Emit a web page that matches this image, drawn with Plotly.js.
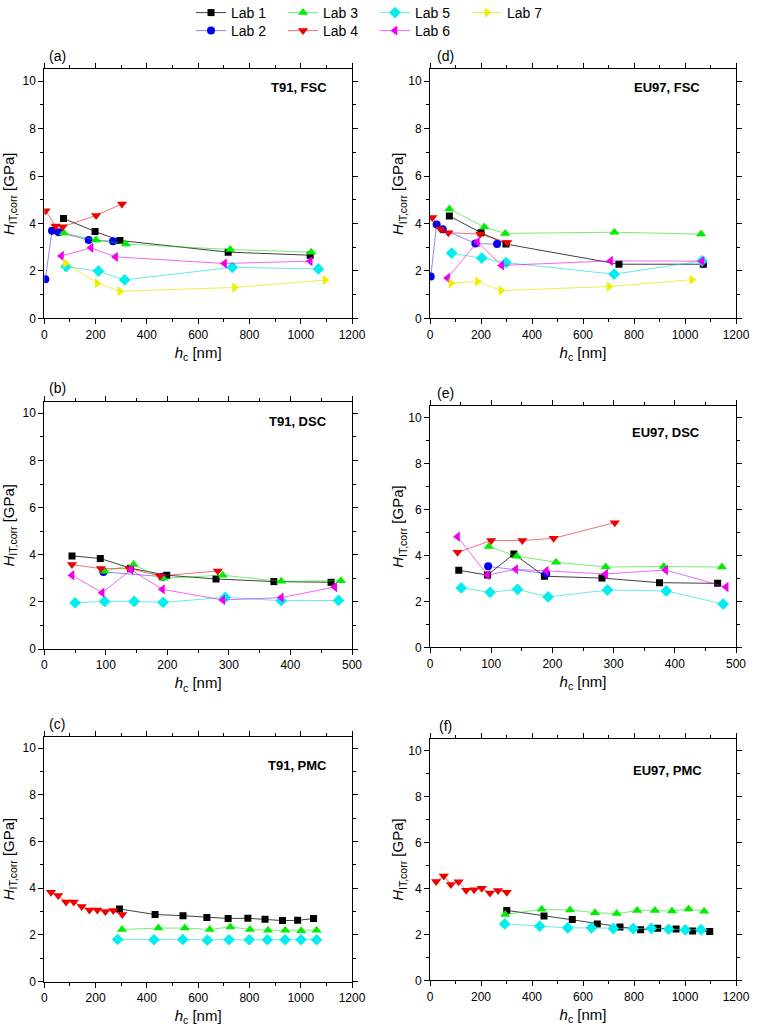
<!DOCTYPE html>
<html><head><meta charset="utf-8">
<script src="https://cdn.plot.ly/plotly-3.0.1.min.js"></script>
<style>html,body{margin:0;padding:0;background:#fff}#chart{width:757px;height:1033px}</style>
</head><body><div id="chart"></div>
<script>
// ---------- Data: panel (a) T91, FSC ----------
const a_lab1_x = [75,198,295,717,1037],  a_lab1_y = [4.21,3.66,3.28,2.79,2.66];
const a_lab2_x = [4,30,56,173,268],      a_lab2_y = [1.65,3.69,3.63,3.30,3.25];
const a_lab3_x = [76,202,318,725,1041],  a_lab3_y = [3.60,3.30,3.13,2.90,2.79];
const a_lab4_x = [5,44,72,202,303],      a_lab4_y = [4.54,3.89,3.86,4.34,4.82];
const a_lab5_x = [85,211,313,733,1069],  a_lab5_y = [2.18,1.99,1.62,2.15,2.08];
const a_lab6_x = [67,182,278,703,1037],  a_lab6_y = [2.63,2.97,2.59,2.31,2.41];
const a_lab7_x = [82,206,295,742,1095],  a_lab7_y = [2.32,1.48,1.14,1.30,1.61];
// ---------- Data: panel (d) EU97, FSC ----------
const d_lab1_x = [76,200,298,741,1072],  d_lab1_y = [4.31,3.61,3.13,2.28,2.28];
const d_lab2_x = [3,26,50,178,263],      d_lab2_y = [1.76,3.96,3.76,3.15,3.13];
const d_lab3_x = [76,213,295,723,1063],  d_lab3_y = [4.61,3.85,3.58,3.63,3.55];
const d_lab4_x = [9,42,72,197,303],      d_lab4_y = [4.25,3.76,3.61,3.55,3.20];
const d_lab5_x = [85,203,298,722,1067],  d_lab5_y = [2.75,2.54,2.35,1.86,2.42];
const d_lab6_x = [69,186,281,708,1067],  d_lab6_y = [1.70,3.22,2.23,2.42,2.41];
const d_lab7_x = [82,186,278,702,1027],  d_lab7_y = [1.48,1.55,1.17,1.34,1.63];
// ---------- Data: panel (b) T91, DSC ----------
const b_lab1_x = [45,91,140,199,279,373,466], b_lab1_y = [3.95,3.84,3.43,3.13,2.97,2.86,2.83];
const b_lab2_x = [96,192],                    b_lab2_y = [3.27,3.07];
const b_lab3_x = [98,145,193,290,385,482],    b_lab3_y = [3.30,3.58,3.00,3.13,2.87,2.90];
const b_lab4_x = [45,92,138,188,282],         b_lab4_y = [3.58,3.41,3.41,3.10,3.31];
const b_lab5_x = [50,98,146,193,294,385,478], b_lab5_y = [1.96,2.02,2.02,1.98,2.19,2.05,2.06];
const b_lab6_x = [45,94,141,192,290,385,472], b_lab6_y = [3.13,2.39,3.36,2.53,2.08,2.18,2.63];
// ---------- Data: panel (e) EU97, DSC ----------
const e_lab1_x = [47,94,137,187,281,375,470], e_lab1_y = [3.35,3.14,4.06,3.09,3.01,2.81,2.78];
const e_lab2_x = [95,190],                    e_lab2_y = [3.52,3.20];
const e_lab3_x = [96,142,206,287,382,477],    e_lab3_y = [4.38,3.96,3.70,3.49,3.51,3.49];
const e_lab4_x = [45,100,151,202,302],        e_lab4_y = [4.13,4.64,4.64,4.74,5.42];
const e_lab5_x = [51,98,143,193,290,386,479], e_lab5_y = [2.58,2.39,2.52,2.19,2.49,2.45,1.88];
const e_lab6_x = [45,94,140,190,287,385,484], e_lab6_y = [4.81,3.14,3.39,3.32,3.19,3.36,2.62];
// ---------- Data: panel (c) T91, PMC ----------
const c_lab1_x = [293,432,541,634,717,794,861,929,988,1050], c_lab1_y = [3.11,2.87,2.82,2.74,2.70,2.71,2.67,2.61,2.62,2.70];
const c_lab3_x = [303,445,548,645,726,802,872,940,1002,1062], c_lab3_y = [2.23,2.29,2.29,2.23,2.34,2.23,2.20,2.20,2.18,2.20];
const c_lab4_x = [26,54,85,115,146,176,207,238,269,304],      c_lab4_y = [3.83,3.69,3.41,3.41,3.21,3.06,3.06,3.00,3.04,2.87];
const c_lab5_x = [286,428,540,636,720,799,870,939,1001,1062], c_lab5_y = [1.80,1.79,1.80,1.77,1.79,1.79,1.79,1.79,1.79,1.79];
// ---------- Data: panel (f) EU97, PMC ----------
const f_lab1_x = [301,447,558,656,745,826,893,965,1030,1097], f_lab1_y = [3.04,2.80,2.64,2.45,2.32,2.20,2.26,2.23,2.14,2.12];
const f_lab3_x = [295,438,549,647,732,812,882,949,1014,1075], f_lab3_y = [2.86,3.09,3.06,2.94,2.90,3.03,3.03,3.01,3.10,3.00];
const f_lab4_x = [24,54,82,112,142,173,203,235,267,301],      f_lab4_y = [4.30,4.54,4.17,4.28,3.92,3.94,4.00,3.80,3.90,3.83];
const f_lab5_x = [293,430,540,633,719,797,868,936,1001,1063], f_lab5_y = [2.45,2.35,2.28,2.28,2.25,2.25,2.26,2.22,2.19,2.20];

const labNames = ['Lab 1','Lab 2','Lab 3','Lab 4','Lab 5','Lab 6','Lab 7'];
const panelLetters = ['(a)','(d)','(b)','(e)','(c)','(f)'];
const panelTexts = ['T91, FSC','EU97, FSC','T91, DSC','EU97, DSC','T91, PMC','EU97, PMC'];

const markerColors = ['#000000','#0000ee','#00ee00','#ee0000','#00eeee','#ee00ee','#eeee00'];
const lineColors = ['rgba(0,0,0,0.75)','rgba(40,40,230,0.55)','rgba(0,220,0,0.55)','rgba(230,0,0,0.55)',
                    'rgba(0,220,220,0.6)','rgba(230,0,230,0.6)','rgba(230,230,0,0.7)'];
const symbols = ['square','circle','triangle-up','triangle-down','diamond','triangle-left','triangle-right'];
const sizes = [7,8,9,9,9,9,9];

const panels = [
  {xa:'x',  ya:'y',  d:[[a_lab1_x,a_lab1_y],[a_lab2_x,a_lab2_y],[a_lab3_x,a_lab3_y],[a_lab4_x,a_lab4_y],[a_lab5_x,a_lab5_y],[a_lab6_x,a_lab6_y],[a_lab7_x,a_lab7_y]]},
  {xa:'x2', ya:'y2', d:[[d_lab1_x,d_lab1_y],[d_lab2_x,d_lab2_y],[d_lab3_x,d_lab3_y],[d_lab4_x,d_lab4_y],[d_lab5_x,d_lab5_y],[d_lab6_x,d_lab6_y],[d_lab7_x,d_lab7_y]]},
  {xa:'x3', ya:'y3', d:[[b_lab1_x,b_lab1_y],[b_lab2_x,b_lab2_y],[b_lab3_x,b_lab3_y],[b_lab4_x,b_lab4_y],[b_lab5_x,b_lab5_y],[b_lab6_x,b_lab6_y],null]},
  {xa:'x4', ya:'y4', d:[[e_lab1_x,e_lab1_y],[e_lab2_x,e_lab2_y],[e_lab3_x,e_lab3_y],[e_lab4_x,e_lab4_y],[e_lab5_x,e_lab5_y],[e_lab6_x,e_lab6_y],null]},
  {xa:'x5', ya:'y5', d:[[c_lab1_x,c_lab1_y],null,[c_lab3_x,c_lab3_y],[c_lab4_x,c_lab4_y],[c_lab5_x,c_lab5_y],null,null]},
  {xa:'x6', ya:'y6', d:[[f_lab1_x,f_lab1_y],null,[f_lab3_x,f_lab3_y],[f_lab4_x,f_lab4_y],[f_lab5_x,f_lab5_y],null,null]}
];

const traces = [];
const shown = {};
panels.forEach(p => {
  p.d.forEach((xy, i) => {
    if (!xy) return;
    const first = !shown[i];
    shown[i] = true;
    traces.push({
      type:'scatter', mode:'lines+markers', name: labNames[i], legendgroup: labNames[i],
      legend: (i % 2 === 0) ? 'legend' : 'legend2',
      showlegend: first,
      x: xy[0], y: xy[1], xaxis: p.xa, yaxis: p.ya,
      line: {color: lineColors[i], width: 1},
      marker: {color: markerColors[i], symbol: symbols[i], size: sizes[i], line:{width:0}}
    });
  });
});

const W = 757, H = 1033;
const colX = [[44.3/W, 352/W], [430/W, 736/W]];
// frame [bottom px, top px] per panel: a, d, b, e, c, f
const frameY = [[318.3,69.3],[318.3,69.3],[649,401.5],[647.3,405.8],[981.5,736.5],[980.3,738.8]];
const fontFam = '"Liberation Sans", Arial, sans-serif';

function xax(col, maxv, dt, mdt, anchor) {
  return {
    domain: colX[col], anchor: anchor, range:[0, maxv], dtick: dt, tick0: 0,
    showline:true, linecolor:'#000', linewidth:1, mirror:'allticks',
    ticks:'outside', ticklen:5, tickwidth:1, tickcolor:'#000',
    minor:{ticks:'outside', ticklen:3, dtick:mdt, tickcolor:'#000', tickwidth:1},
    showgrid:false, zeroline:false, fixedrange:true, automargin:false,
    tickfont:{size:12, color:'#000', family: fontFam},
    title:{text:'<i>h</i><sub>c</sub> [nm]', font:{size:15, color:'#000', family: fontFam}, standoff:6}
  };
}
function yax(col, panel, anchor) {
  const fy = frameY[panel];
  return {
    domain: [1-fy[0]/H, 1-fy[1]/H], anchor: anchor, range:[0, 10.5], dtick: 2, tick0: 0,
    showline:true, linecolor:'#000', linewidth:1, mirror:'allticks',
    ticks:'outside', ticklen:5, tickwidth:1, tickcolor:'#000',
    minor:{ticks:'outside', ticklen:3, dtick:1, tickcolor:'#000', tickwidth:1},
    showgrid:false, zeroline:false, fixedrange:true, automargin:false,
    tickfont:{size:12, color:'#000', family: fontFam},
    title:{text:'<i>H</i><sub>IT,corr</sub> [GPa]', font:{size:15, color:'#000', family: fontFam}, standoff: col === 0 ? 4 : 0}
  };
}

const annotations = [];
const letterX = [57,445,57,445,57,445];
const textPos = [[0.925,0.925],[0.889,0.925],[0.925,0.921],[0.889,0.89],[0.925,0.88],[0.895,0.87]];
const axNames = [['x','y'],['x2','y2'],['x3','y3'],['x4','y4'],['x5','y5'],['x6','y6']];
panelLetters.forEach((t, i) => {
  annotations.push({text:t, xref:'paper', yref:'paper', x: letterX[i]/W, y: 1-(frameY[i][1]-13)/H,
    xanchor:'center', yanchor:'middle', showarrow:false, font:{size:14, color:'#000', family: fontFam}});
});
panelTexts.forEach((t, i) => {
  annotations.push({text:'<b>'+t+'</b>', xref: axNames[i][0]+' domain', yref: axNames[i][1]+' domain',
    x: textPos[i][0], y: textPos[i][1], xanchor:'right', yanchor:'middle', showarrow:false,
    font:{size:13, color:'#000', family: fontFam}});
});

const legendBase = {orientation:'h', xanchor:'left', yanchor:'middle',
  entrywidth:47, entrywidthmode:'pixels', font:{size:14, family: fontFam, color:'#000'},
  bgcolor:'rgba(0,0,0,0)', itemclick:false, itemdoubleclick:false};

const layout = {
  width: W, height: H, margin:{l:0, r:0, t:0, b:0, autoexpand:false},
  paper_bgcolor:'#fff', plot_bgcolor:'#fff',
  font:{family: fontFam, color:'#000'},
  xaxis: xax(0,1200,200,100,'y'),  yaxis: yax(0,0,'x'),
  xaxis2: xax(1,1200,200,100,'y2'), yaxis2: yax(1,1,'x2'),
  xaxis3: xax(0,500,100,50,'y3'),  yaxis3: yax(0,2,'x3'),
  xaxis4: xax(1,500,100,50,'y4'),  yaxis4: yax(1,3,'x4'),
  xaxis5: xax(0,1200,200,100,'y5'), yaxis5: yax(0,4,'x5'),
  xaxis6: xax(1,1200,200,100,'y6'), yaxis6: yax(1,5,'x6'),
  legend: Object.assign({}, legendBase, {x:191/W, y:1-13/H}),
  legend2: Object.assign({}, legendBase, {x:191/W, y:1-31/H}),
  annotations: annotations,
  showlegend: true
};

Plotly.newPlot('chart', traces, layout, {displayModeBar:false, staticPlot:true});
</script>
</body></html>
